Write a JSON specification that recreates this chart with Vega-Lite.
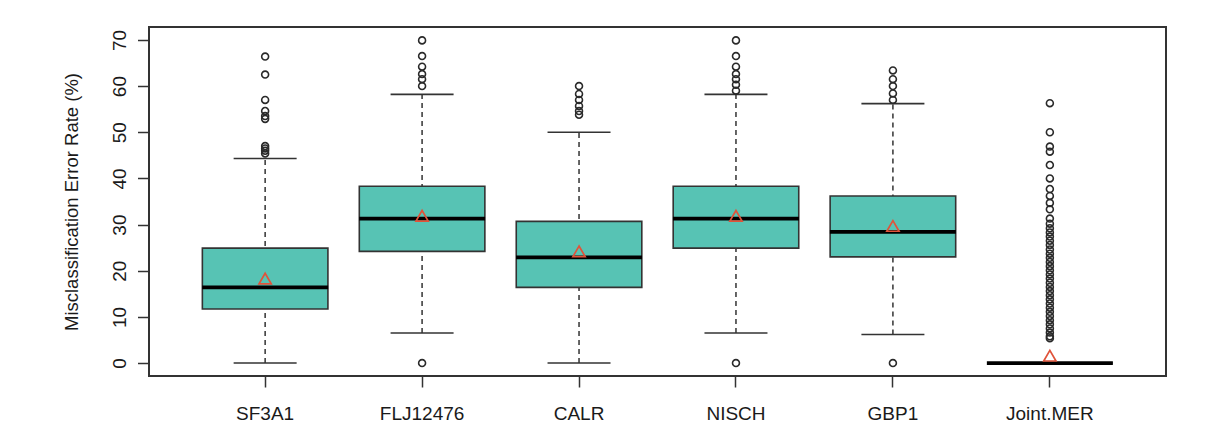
{
  "$schema": "https://vega.github.io/schema/vega-lite/v6.json",
  "autosize": "none",
  "padding": {"left": 149, "top": 27, "right": 62, "bottom": 63},
  "width": 1017,
  "height": 349,
  "background": "white",
  "config": {
    "font": "Liberation Sans",
    "view": {"stroke": "#333333", "strokeWidth": 2}
  },
  "datasets": {
    "boxes": [
      {"name": "SF3A1", "lo": 0, "q1": 11.7, "median": 16.4, "q3": 24.9, "hi": 44.3, "mean": 18.3},
      {"name": "FLJ12476", "lo": 6.5, "q1": 24.2, "median": 31.3, "q3": 38.3, "hi": 58.2, "mean": 31.9},
      {"name": "CALR", "lo": 0, "q1": 16.4, "median": 22.9, "q3": 30.7, "hi": 50.0, "mean": 24.2},
      {"name": "NISCH", "lo": 6.5, "q1": 24.9, "median": 31.3, "q3": 38.3, "hi": 58.2, "mean": 31.9},
      {"name": "GBP1", "lo": 6.2, "q1": 23.0, "median": 28.4, "q3": 36.2, "hi": 56.2, "mean": 29.7},
      {"name": "Joint.MER", "lo": 0, "q1": 0, "median": 0, "q3": 0, "hi": 0, "mean": 1.6}
    ],
    "outliers": [
      {"name": "SF3A1", "value": 66.4}, {"name": "SF3A1", "value": 62.5}, {"name": "SF3A1", "value": 57.0},
      {"name": "SF3A1", "value": 54.6}, {"name": "SF3A1", "value": 53.5}, {"name": "SF3A1", "value": 52.9},
      {"name": "SF3A1", "value": 47.0}, {"name": "SF3A1", "value": 46.5}, {"name": "SF3A1", "value": 46.0},
      {"name": "SF3A1", "value": 45.4},
      {"name": "FLJ12476", "value": 0}, {"name": "FLJ12476", "value": 69.9}, {"name": "FLJ12476", "value": 66.5},
      {"name": "FLJ12476", "value": 64.2}, {"name": "FLJ12476", "value": 62.6}, {"name": "FLJ12476", "value": 61.5},
      {"name": "FLJ12476", "value": 60.0},
      {"name": "CALR", "value": 60.0}, {"name": "CALR", "value": 58.3}, {"name": "CALR", "value": 57.0},
      {"name": "CALR", "value": 55.7}, {"name": "CALR", "value": 54.6}, {"name": "CALR", "value": 53.8},
      {"name": "NISCH", "value": 0}, {"name": "NISCH", "value": 69.9}, {"name": "NISCH", "value": 66.5},
      {"name": "NISCH", "value": 64.2}, {"name": "NISCH", "value": 62.6}, {"name": "NISCH", "value": 61.5},
      {"name": "NISCH", "value": 60.3}, {"name": "NISCH", "value": 59.0},
      {"name": "GBP1", "value": 0}, {"name": "GBP1", "value": 63.4}, {"name": "GBP1", "value": 61.5},
      {"name": "GBP1", "value": 60.0}, {"name": "GBP1", "value": 58.4}, {"name": "GBP1", "value": 57.0},
      {"name": "Joint.MER", "value": 56.3}, {"name": "Joint.MER", "value": 50.0}, {"name": "Joint.MER", "value": 46.9},
      {"name": "Joint.MER", "value": 45.8}, {"name": "Joint.MER", "value": 42.9}, {"name": "Joint.MER", "value": 40.0},
      {"name": "Joint.MER", "value": 37.7}, {"name": "Joint.MER", "value": 36.2}, {"name": "Joint.MER", "value": 34.7},
      {"name": "Joint.MER", "value": 33.3}, {"name": "Joint.MER", "value": 31.3}, {"name": "Joint.MER", "value": 30.2},
      {"name": "Joint.MER", "value": 29.2}, {"name": "Joint.MER", "value": 28.3}, {"name": "Joint.MER", "value": 27.4},
      {"name": "Joint.MER", "value": 26.5}, {"name": "Joint.MER", "value": 25.6}, {"name": "Joint.MER", "value": 24.6},
      {"name": "Joint.MER", "value": 23.7}, {"name": "Joint.MER", "value": 22.8}, {"name": "Joint.MER", "value": 21.9},
      {"name": "Joint.MER", "value": 21.0}, {"name": "Joint.MER", "value": 20.1}, {"name": "Joint.MER", "value": 19.2},
      {"name": "Joint.MER", "value": 18.3}, {"name": "Joint.MER", "value": 17.4}, {"name": "Joint.MER", "value": 16.5},
      {"name": "Joint.MER", "value": 15.6}, {"name": "Joint.MER", "value": 14.7}, {"name": "Joint.MER", "value": 13.8},
      {"name": "Joint.MER", "value": 12.9}, {"name": "Joint.MER", "value": 12.0}, {"name": "Joint.MER", "value": 11.1},
      {"name": "Joint.MER", "value": 10.2}, {"name": "Joint.MER", "value": 9.3}, {"name": "Joint.MER", "value": 8.4},
      {"name": "Joint.MER", "value": 7.5}, {"name": "Joint.MER", "value": 6.6}, {"name": "Joint.MER", "value": 5.8},
      {"name": "Joint.MER", "value": 5.4}
    ]
  },
  "encoding": {
    "x": {
      "field": "name",
      "type": "nominal",
      "sort": ["SF3A1", "FLJ12476", "CALR", "NISCH", "GBP1", "Joint.MER"],
      "scale": {"paddingInner": 0, "paddingOuter": 0.24},
      "axis": {
        "title": null,
        "labelAngle": 0,
        "labelFont": "Liberation Sans",
        "labelFontSize": 19,
        "labelColor": "#1a1a1a",
        "labelBaseline": "alphabetic",
        "labelPadding": 32,
        "tickSize": 11,
        "tickColor": "#333333",
        "tickWidth": 1.5,
        "domain": false,
        "grid": false
      }
    }
  },
  "layer": [
    {
      "data": {"name": "boxes"},
      "mark": {"type": "rule", "color": "#333333", "strokeWidth": 1.5, "strokeDash": [5, 4], "opacity": 1},
      "encoding": {
        "y": {
          "field": "lo",
          "type": "quantitative",
          "scale": {"domain": [-2.8, 72.8], "nice": false, "zero": false},
          "axis": {
            "title": "Misclassification Error Rate (%)",
            "titleFont": "Liberation Sans",
            "titleFontSize": 18.5,
            "titleFontWeight": "normal",
            "titleColor": "#1a1a1a",
            "titlePadding": 29,
            "values": [0, 10, 20, 30, 40, 50, 60, 70],
            "labelAngle": -90,
            "labelAlign": "center",
            "labelBaseline": "alphabetic",
            "labelFont": "Liberation Sans",
            "labelFontSize": 19,
            "labelColor": "#1a1a1a",
            "labelPadding": 12,
            "tickSize": 11.5,
            "tickColor": "#333333",
            "tickWidth": 1.5,
            "domain": false,
            "grid": false
          }
        },
        "y2": {"field": "hi"}
      }
    },
    {
      "data": {"name": "boxes"},
      "mark": {"type": "tick", "orient": "horizontal", "color": "#333333", "thickness": 1.6, "size": 63, "opacity": 1},
      "encoding": {"y": {"field": "lo", "type": "quantitative"}}
    },
    {
      "data": {"name": "boxes"},
      "mark": {"type": "tick", "orient": "horizontal", "color": "#333333", "thickness": 1.6, "size": 63, "opacity": 1},
      "encoding": {"y": {"field": "hi", "type": "quantitative"}}
    },
    {
      "data": {"name": "boxes"},
      "mark": {"type": "bar", "fill": "#57C3B4", "stroke": "#333333", "strokeWidth": 1.6, "width": {"band": 0.8}, "opacity": 1},
      "encoding": {
        "y": {"field": "q1", "type": "quantitative"},
        "y2": {"field": "q3"}
      }
    },
    {
      "data": {"name": "boxes"},
      "mark": {"type": "tick", "orient": "horizontal", "color": "#000000", "thickness": 3.8, "size": 126, "opacity": 1},
      "encoding": {"y": {"field": "median", "type": "quantitative"}}
    },
    {
      "data": {"name": "boxes"},
      "mark": {"type": "point", "shape": "triangle-up", "filled": false, "stroke": "#E0533A", "strokeWidth": 1.7, "size": 150, "opacity": 1},
      "encoding": {"y": {"field": "mean", "type": "quantitative"}}
    },
    {
      "data": {"name": "outliers"},
      "mark": {"type": "point", "shape": "circle", "filled": false, "stroke": "#2a2a2a", "strokeWidth": 1.6, "size": 48, "opacity": 1},
      "encoding": {"y": {"field": "value", "type": "quantitative"}}
    }
  ]
}
